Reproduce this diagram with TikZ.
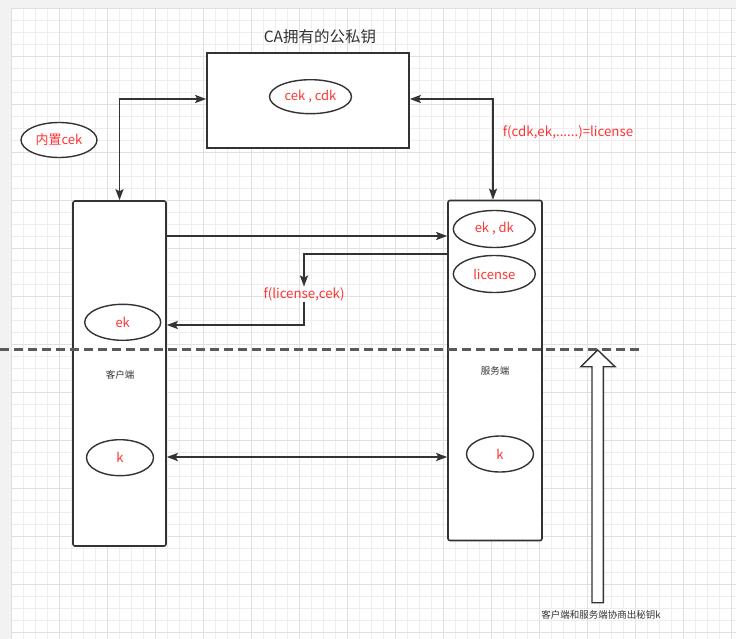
\documentclass[tikz,border=0pt]{standalone}
\usepackage{fontspec}
\setmainfont{Noto Sans CJK SC}
\usetikzlibrary{shapes.geometric,arrows.meta}
\definecolor{linegray}{HTML}{333333}
\definecolor{dashgray}{HTML}{5A5A5A}
\definecolor{txtred}{HTML}{FF3333}
\definecolor{minorgrid}{HTML}{EEEEEE}
\definecolor{majorgrid}{HTML}{E0E0E0}
\definecolor{margingray}{HTML}{F2F2F2}
\tikzset{
  box/.style={draw=linegray, line width=1.6pt, fill=white, rounded corners=2pt},
  keyell/.style={ellipse, draw=linegray, line width=1.4pt, fill=white, inner sep=0pt,
    text=txtred, font=\fontsize{13}{15}\selectfont},
  conn/.style={draw=linegray, line width=1.6pt, -{Stealth[length=11pt,width=8pt,inset=2pt]}},
  bconn/.style={draw=linegray, line width=1.6pt, {Stealth[length=11pt,width=8pt,inset=2pt]}-{Stealth[length=11pt,width=8pt,inset=2pt]}},
  redlbl/.style={text=txtred, inner sep=1pt, font=\fontsize{13.3}{15}\selectfont},
  smalllbl/.style={text=linegray, inner sep=0pt, font=\fontsize{9.5}{11}\selectfont},
}
\begin{document}
\begin{tikzpicture}[x=1pt,y=-1pt]
\useasboundingbox (0,0) rectangle (736,639);
% background & grid
\fill[margingray] (0,0) rectangle (736,639);
\fill[white] (11.5,8.5) rectangle (736,639);
\foreach \i in {0,...,60} {
  \pgfmathsetmacro\xx{11.5+12*\i}
  \draw[minorgrid, line width=0.8pt] (\xx,8.5) -- (\xx,639);
}
\foreach \j in {0,...,52} {
  \pgfmathsetmacro\yy{8.5+12*\j}
  \draw[minorgrid, line width=0.8pt] (11.5,\yy) -- (736,\yy);
}
\foreach \i in {0,...,15} {
  \pgfmathsetmacro\xx{11.5+48*\i}
  \draw[majorgrid, line width=0.8pt] (\xx,8.5) -- (\xx,639);
}
\foreach \j in {0,...,13} {
  \pgfmathsetmacro\yy{8.5+48*\j}
  \draw[majorgrid, line width=0.8pt] (11.5,\yy) -- (736,\yy);
}

% title
\node[text=linegray, inner sep=0pt, font=\fontsize{15.5}{18}\selectfont] (title) at (320,37) {CA拥有的公私钥};

% CA box
\node[box, rounded corners=0pt, minimum width=202pt, minimum height=95pt, inner sep=0pt] (ca) at (308,100.5) {};
\node[keyell, minimum width=82pt, minimum height=34pt] (cakeys) at (310.5,96.7) {cek , cdk};

% built-in cek
\node[keyell, minimum width=76pt, minimum height=35pt] (builtin) at (59,140) {内置cek};

% client box
\node[box, minimum width=93pt, minimum height=345pt, inner sep=0pt] (cl) at (119.5,373.5) {};
\node[keyell, minimum width=76pt, minimum height=36pt] (cek) at (122.7,322.3) {ek};
\node[smalllbl] (cllbl) at (120,375) {客户端};
\node[keyell, minimum width=67pt, minimum height=36pt] (ck) at (120,457.7) {k};

% server box
\node[box, minimum width=94pt, minimum height=340pt, inner sep=0pt] (sv) at (495,370.5) {};
\node[keyell, minimum width=82pt, minimum height=37pt] (sekdk) at (494.3,229) {ek , dk};
\node[keyell, minimum width=82pt, minimum height=37pt] (slic) at (494.3,274) {license};
\node[smalllbl] (svlbl) at (495,370.7) {服务端};
\node[keyell, minimum width=67pt, minimum height=36pt] (sk) at (500,454) {k};

% labels
\node[redlbl] (fcdk) at (568,132) {f(cdk,ek,......)=license};
\node[redlbl] (flic) at (304,294.5) {f(license,cek)};

% connectors
\coordinate (cay) at (0,99);
\draw[bconn] (cl.north) |- (ca.west |- cay);
\draw[bconn] (sv.north -| 493,0) |- (ca.east |- cay);
\coordinate (y1) at (0,236);
\draw[conn] (cl.east |- y1) -- (sv.west |- y1);
\coordinate (y2) at (0,254);
\coordinate (y3) at (0,325);
\draw[conn] (sv.west |- y2) -| (flic.north);
\draw[conn] (flic.south) |- (cl.east |- y3);
\coordinate (y4) at (0,457);
\draw[bconn] (cl.east |- y4) -- (sv.west |- y4);

% dashed separator
\coordinate (dl) at (0,349.5);
\coordinate (dr) at (640,349.5);
\draw[draw=dashgray, line width=2.2pt, dash pattern=on 9pt off 5pt] (dl) -- (dr);

% big hollow arrow
\draw[draw=linegray, line width=1.4pt, fill=white, line join=miter]
  (592,602.7) -- (592,366.7) -- (581,366.7) -- (597.7,350) -- (615,366.7) -- (603.3,366.7) -- (603.3,602.7) -- cycle;
\node[smalllbl] (biglbl) at (601,615) {客户端和服务端协商出秘钥k};
\end{tikzpicture}
\end{document}
